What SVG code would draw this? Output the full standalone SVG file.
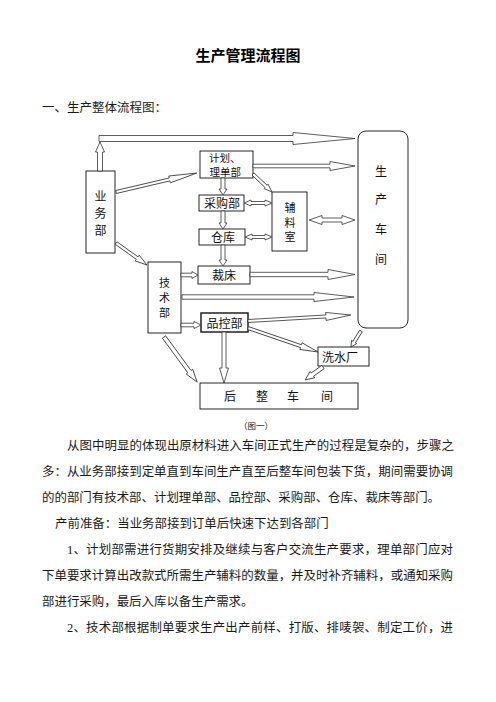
<svg xmlns="http://www.w3.org/2000/svg" width="496" height="702" viewBox="0 0 496 702">
<style>
.bg{fill:#fff}
.box{fill:#fff;stroke:#111;stroke-width:0.9}
.lbl{font-family:"Noto Sans CJK SC","Liberation Sans",sans-serif;font-size:12px;fill:#111;text-anchor:middle}
.sm{font-size:11px}
.arr{fill:#fff;stroke:#333;stroke-width:0.8;stroke-linejoin:miter}
.body{font-family:"Liberation Serif","Noto Sans CJK SC",serif;font-size:12.45px;fill:#1a1a1a}
.title{font-family:"Liberation Serif","Noto Sans CJK SC",serif;font-size:15px;font-weight:bold;fill:#000;text-anchor:middle}
</style>
<rect class="bg" x="0" y="0" width="496" height="702"/>
<text class="title" x="248" y="61">生产管理流程图</text>
<text class="body" x="42" y="112" style="font-size:12.5px">一、生产整体流程图：</text>

<g id="node-yewu"><rect class="box" x="86" y="171" width="29" height="82"/>
<text class="lbl" x="100.5" y="201">业</text><text class="lbl" x="100.5" y="218">务</text><text class="lbl" x="100.5" y="235">部</text></g>
<g id="node-jihua"><rect class="box" x="200" y="151" width="53" height="27"/>
<text class="lbl" x="209" y="161.5" style="text-anchor:start;font-size:10.5px">计划、</text>
<text class="lbl" x="209.5" y="175.5" style="text-anchor:start;font-size:10.5px">理单部</text></g>
<g id="node-caigou"><rect class="box" x="199" y="195" width="45" height="16"/>
<text class="lbl" x="222" y="207.5">采购部</text></g>
<g id="node-cangku"><rect class="box" x="199" y="229" width="46" height="16"/>
<text class="lbl" x="223" y="241.5">仓库</text></g>
<g id="node-fuliao"><rect class="box" x="272" y="192" width="35" height="59"/>
<text class="lbl sm" x="290" y="212">辅</text><text class="lbl sm" x="290" y="226.5">料</text><text class="lbl sm" x="290" y="241">室</text></g>
<g id="node-chejian"><rect class="box" x="358" y="131" width="50" height="197" rx="8"/>
<text class="lbl" x="381" y="176">生</text><text class="lbl" x="381" y="204">产</text><text class="lbl" x="381" y="234">车</text><text class="lbl" x="381" y="264">间</text></g>
<g id="node-jishu"><rect class="box" x="148" y="262" width="33" height="71"/>
<text class="lbl sm" x="164.5" y="286.5">技</text><text class="lbl sm" x="164.5" y="301.5">术</text><text class="lbl sm" x="164.5" y="316.5">部</text></g>
<g id="node-caichuang"><rect class="box" x="198" y="266" width="52" height="18"/>
<text class="lbl" x="224" y="279.5">裁床</text></g>
<g id="node-pinkong"><rect class="box" x="201" y="313" width="47" height="19" style="stroke-width:1.4"/>
<text class="lbl" x="224.5" y="327.5">品控部</text></g>
<g id="node-xishui"><rect class="box" x="318" y="347" width="51" height="19"/>
<text class="lbl" x="340" y="361.5">洗水厂</text></g>
<g id="node-houzheng"><rect class="box" x="200" y="383" width="158" height="26"/>
<text class="lbl" x="230" y="400.5">后</text><text class="lbl" x="262" y="400.5">整</text><text class="lbl" x="293" y="400.5">车</text><text class="lbl" x="327" y="400.5">间</text></g>

<g id="connectors">
<polygon class="arr" transform="translate(100,171) rotate(-90)" points="0,-2.5 19,-2.5 19,-4.5 29,0 19,4.5 19,2.5 0,2.5"/>
<polygon class="arr" transform="translate(99,138.5)" points="0,-3 194,-3 194,-6 256,0 194,6 194,3 0,3"/>
<polygon class="arr" transform="translate(116,192) rotate(-13.2)" points="0,-1.5 55,-1.5 55,-3.5 83,0 55,3.5 55,1.5 0,1.5"/>
<polygon class="arr" transform="translate(116,243) rotate(35.4)" points="0,-1.5 26,-1.5 26,-3.5 38,0 26,3.5 26,1.5 0,1.5"/>
<polygon class="arr" transform="translate(223,178) rotate(90)" points="0,-2 11,-2 11,-4 17,0 11,4 11,2 0,2"/>
<polygon class="arr" transform="translate(223,211) rotate(90)" points="0,-2 12,-2 12,-4 18,0 12,4 12,2 0,2"/>
<polygon class="arr" transform="translate(223,245) rotate(90)" points="0,-2 15,-2 15,-4 21,0 15,4 15,2 0,2"/>
<polygon class="arr" transform="translate(253,166)" points="0,-1.8 77,-1.8 77,-4.5 102,0 77,4.5 77,1.8 0,1.8"/>
<polygon class="arr" transform="translate(253,174) rotate(43.5)" points="0,-1.5 18,-1.5 18,-3 26,0 18,3 18,1.5 0,1.5"/>
<polygon class="arr" transform="translate(244,203)" points="0,0 7,-3 7,-1.5 21,-1.5 21,-3 28,0 21,3 21,1.5 7,1.5 7,3"/>
<polygon class="arr" transform="translate(245,237)" points="0,0 7,-3 7,-1.5 20,-1.5 20,-3 27,0 20,3 20,1.5 7,1.5 7,3"/>
<polygon class="arr" transform="translate(309,220)" points="0,0 13,-4.5 13,-2 33,-2 33,-4.5 46,0 33,4.5 33,2 13,2 13,4.5"/>
<polygon class="arr" transform="translate(181,275)" points="0,-1.8 11,-1.8 11,-3.5 17,0 11,3.5 11,1.8 0,1.8"/>
<polygon class="arr" transform="translate(250,274.5)" points="0,-2.2 78,-2.2 78,-5 105,0 78,5 78,2.2 0,2.2"/>
<polygon class="arr" transform="translate(182,297)" points="0,-2.2 132,-2.2 132,-4.5 172,0 132,4.5 132,2.2 0,2.2"/>
<polygon class="arr" transform="translate(181,325)" points="0,-1.8 13,-1.8 13,-3.5 20,0 13,3.5 13,1.8 0,1.8"/>
<polygon class="arr" transform="translate(248,321) rotate(-3.33)" points="0,-1.5 78,-1.5 78,-4 103,0 78,4 78,1.5 0,1.5"/>
<polygon class="arr" transform="translate(248,328) rotate(18.9)" points="0,-1.5 56,-1.5 56,-3.5 74,0 56,3.5 56,1.5 0,1.5"/>
<polygon class="arr" transform="translate(361,331) rotate(122)" points="0,-1.5 13,-1.5 13,-3 19,0 13,3 13,1.5 0,1.5"/>
<polygon class="arr" transform="translate(323,367) rotate(144.2)" points="0,-2 13,-2 13,-4 22,0 13,4 13,2 0,2"/>
<polygon class="arr" transform="translate(224,332) rotate(90)" points="0,-2 36,-2 36,-4.5 51,0 36,4.5 36,2 0,2"/>
<polygon class="arr" transform="translate(164,337) rotate(53.7)" points="0,-2 43,-2 43,-4 56,0 43,4 43,2 0,2"/>
</g>

<text class="body" x="256" y="429" style="font-size:8.5px;text-anchor:middle">（图一）</text>
<text class="body" x="67" y="449.5" textLength="387" lengthAdjust="spacing">从图中明显的体现出原材料进入车间正式生产的过程是复杂的，步骤之</text>
<text class="body" x="42" y="475.5" textLength="411" lengthAdjust="spacing">多：从业务部接到定单直到车间生产直至后整车间包装下货，期间需要协调</text>
<text class="body" x="42" y="501.5">的的部门有技术部、计划理单部、品控部、采购部、仓库、裁床等部门。</text>
<text class="body" x="55" y="527.5">产前准备：当业务部接到订单后快速下达到各部门</text>
<text class="body" x="67" y="553.5" textLength="386" lengthAdjust="spacing">1、计划部需进行货期安排及继续与客户交流生产要求，理单部门应对</text>
<text class="body" x="42" y="579.5" textLength="411" lengthAdjust="spacing">下单要求计算出改款式所需生产辅料的数量，并及时补齐辅料，或通知采购</text>
<text class="body" x="42" y="605.5">部进行采购，最后入库以备生产需求。</text>
<text class="body" x="67" y="631.5" textLength="386" lengthAdjust="spacing">2、技术部根据制单要求生产出产前样、打版、排唛袈、制定工价，进</text>
</svg>
